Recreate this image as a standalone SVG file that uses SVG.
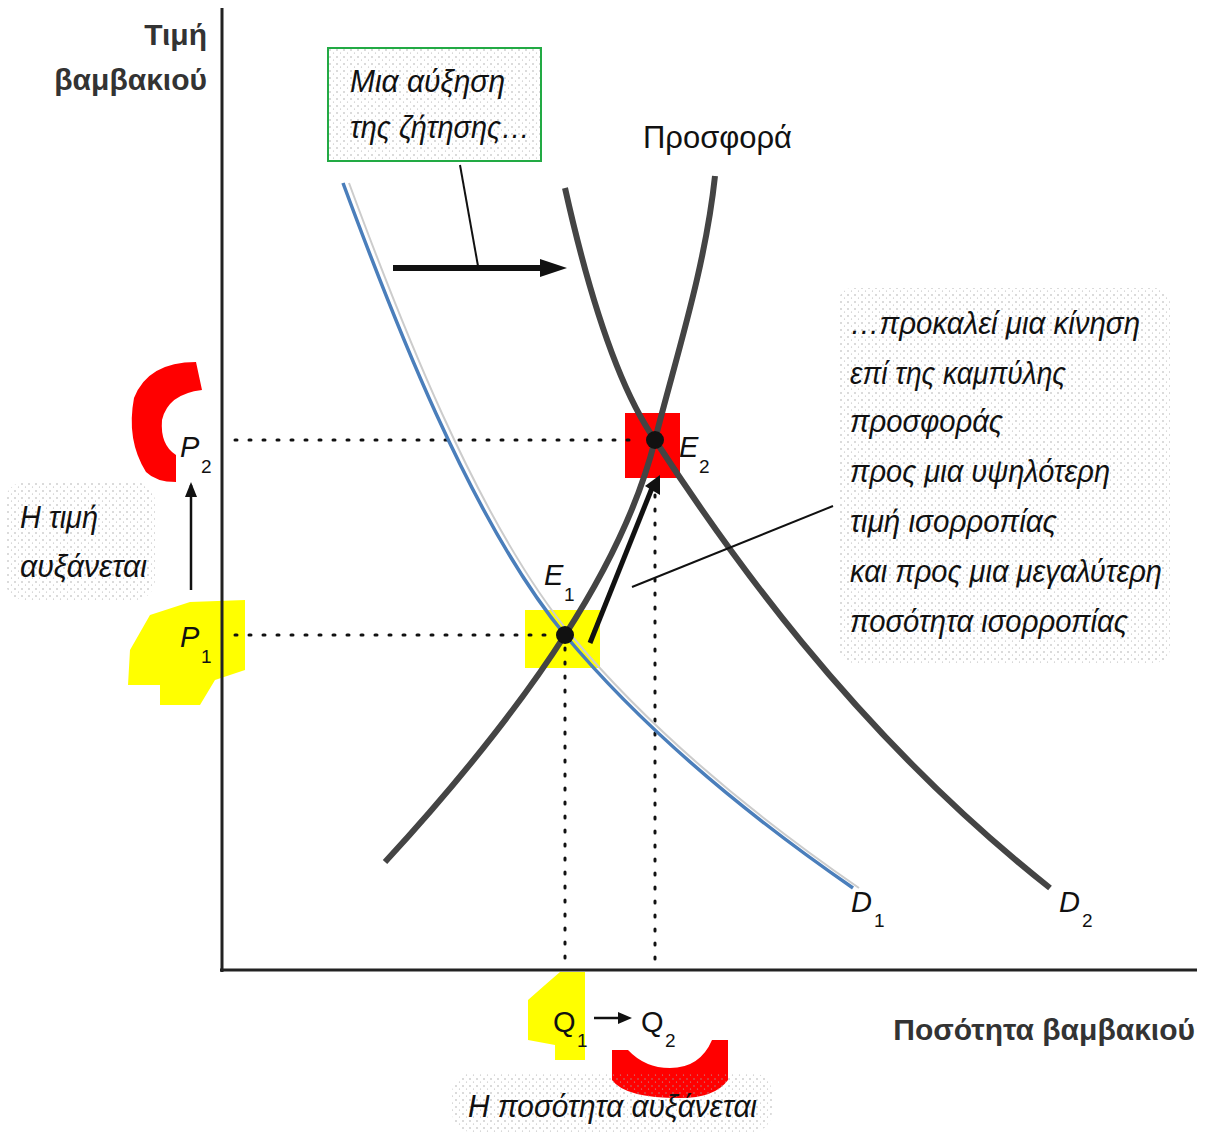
<svg xmlns="http://www.w3.org/2000/svg" width="1215" height="1132" viewBox="0 0 1215 1132">
<defs>
<pattern id="stip" width="7" height="7" patternUnits="userSpaceOnUse">
<circle cx="1" cy="1" r="0.7" fill="#9a9a9a"/>
<circle cx="4.5" cy="4" r="0.6" fill="#b0b0b0"/>
</pattern>
</defs>
<style>
.it{font-family:"Liberation Sans",Arial,sans-serif;font-style:italic;fill:#111}
.rg{font-family:"Liberation Sans",Arial,sans-serif;fill:#111}
.ax{font-family:"Liberation Sans",Arial,sans-serif;font-weight:bold;fill:#333}
.curve{fill:none;stroke:#444;stroke-width:6}
.dot{fill:none;stroke:#111;stroke-width:3;stroke-dasharray:2 12;stroke-linecap:round}
</style>
<rect width="1215" height="1132" fill="#fff"/>

<g id="highlights">
<path d="M196,362 Q148,362 134,398 Q126,440 146,472 Q156,482 176,482 L176,455 Q160,445 162,420 Q168,394 202,390 Z" fill="#ff0000"/>
<path d="M130,650 L150,615 L190,602 L245,600 L245,670 L215,680 L200,705 L160,705 L160,685 L128,685 Z" fill="#ffff00"/>
<rect x="625" y="413" width="55" height="65" fill="#ff0000"/>
<rect x="525" y="610" width="75" height="58" fill="#ffff00"/>
<path d="M545,985 L560,972 L585,972 L585,1060 L555,1060 L555,1045 L528,1040 L528,1000 Z" fill="#ffff00"/>
<path d="M612,1050 L628,1050 Q645,1068 670,1068 Q700,1068 712,1040 L728,1040 L728,1080 Q715,1098 680,1098 Q625,1098 612,1080 Z" fill="#ff0000"/>
</g>

<g id="backgrounds">
<rect x="838" y="288" width="332" height="375" rx="15" fill="url(#stip)"/>
<rect x="5" y="482" width="150" height="118" rx="20" fill="url(#stip)"/>
<rect x="452" y="1073" width="320" height="59" rx="20" fill="url(#stip)"/>
</g>

<g id="axes">
<line x1="222" y1="8" x2="222" y2="972" stroke="#222" stroke-width="3"/>
<line x1="220" y1="970" x2="1197" y2="970" stroke="#222" stroke-width="3"/>
</g>

<g id="guides">
<line class="dot" x1="235" y1="440" x2="640" y2="440"/>
<line class="dot" x1="235" y1="635" x2="555" y2="635"/>
<line class="dot" x1="565" y1="648" x2="565" y2="968"/>
<line class="dot" x1="655" y1="495" x2="655" y2="968"/>
</g>

<g id="connectors">
<path id="supply" class="curve" d="M385,862 C470,770 530,690 565,635 C610,565 640,500 655,440 C675,360 705,270 715,176"/>
<path id="d2" class="curve" d="M565,188 C590,300 620,390 655,440 C720,540 850,730 1050,888"/>
<path d="M349,183 C396,310 476,520 571,635 C646,725 746,810 859,888" fill="none" stroke="#ccc" stroke-width="2"/>
<path id="d1" d="M343,183 C390,310 470,520 565,635 C640,725 740,810 853,888" fill="none" stroke="#4a7ebb" stroke-width="3.5"/>
<line x1="393" y1="268" x2="545" y2="268" stroke="#111" stroke-width="6"/>
<path d="M540,259 L567,268 L540,277 Z" fill="#111"/>
<line x1="460" y1="165" x2="478" y2="266" stroke="#111" stroke-width="2"/>
<line x1="632" y1="587" x2="833" y2="506" stroke="#111" stroke-width="2"/>
<line x1="590" y1="643" x2="652" y2="488" stroke="#111" stroke-width="5"/>
<path d="M645,486 L660,475 L660,495 Z" fill="#111"/>
<line x1="191" y1="590" x2="191" y2="485" stroke="#111" stroke-width="2.5"/>
<path d="M185,497 L191,482 L197,497 Z" fill="#111"/>
<line x1="594" y1="1018" x2="622" y2="1018" stroke="#111" stroke-width="2.5"/>
<path d="M618,1012 L632,1018 L618,1024 Z" fill="#111"/>
</g>

<g id="equilibria">
<circle cx="565" cy="635" r="9" fill="#111"/>
<circle cx="655" cy="440" r="9" fill="#111"/>
</g>

<g id="box-demand">
<rect x="328" y="48" width="213" height="113" fill="url(#stip)" stroke="#22aa44" stroke-width="2"/>
<text class="it" x="350" y="92" font-size="31" textLength="155" lengthAdjust="spacingAndGlyphs">Μια αύξηση</text>
<text class="it" x="350" y="138" font-size="31" textLength="180" lengthAdjust="spacingAndGlyphs">της ζήτησης…</text>
</g>

<g id="box-move">
<text class="it" font-size="31" x="850" y="334" textLength="290" lengthAdjust="spacingAndGlyphs">…προκαλεί μια κίνηση</text>
<text class="it" font-size="31" x="850" y="384" textLength="216" lengthAdjust="spacingAndGlyphs">επί της καμπύλης</text>
<text class="it" font-size="31" x="850" y="432" textLength="153" lengthAdjust="spacingAndGlyphs">προσφοράς</text>
<text class="it" font-size="31" x="850" y="482" textLength="260" lengthAdjust="spacingAndGlyphs">προς μια υψηλότερη</text>
<text class="it" font-size="31" x="850" y="532" textLength="207" lengthAdjust="spacingAndGlyphs">τιμή ισορροπίας</text>
<text class="it" font-size="31" x="850" y="582" textLength="312" lengthAdjust="spacingAndGlyphs">και προς μια μεγαλύτερη</text>
<text class="it" font-size="31" x="850" y="632" textLength="278" lengthAdjust="spacingAndGlyphs">ποσότητα ισορροπίας</text>
</g>

<g id="labels">
<text class="ax" x="207" y="45" font-size="30" text-anchor="end">Τιμή</text>
<text class="ax" x="207" y="90" font-size="30" text-anchor="end">βαμβακιού</text>
<text class="ax" x="1195" y="1040" font-size="30" text-anchor="end">Ποσότητα βαμβακιού</text>
<text class="rg" x="643" y="148" font-size="31" textLength="149" lengthAdjust="spacingAndGlyphs">Προσφορά</text>
<text class="it" x="20" y="528" font-size="31" textLength="78" lengthAdjust="spacingAndGlyphs">Η τιμή</text>
<text class="it" x="20" y="577" font-size="31" textLength="127" lengthAdjust="spacingAndGlyphs">αυξάνεται</text>
<text class="it" x="468" y="1117" font-size="31" textLength="289" lengthAdjust="spacingAndGlyphs">Η ποσότητα αυξάνεται</text>
<text class="it" x="180" y="457" font-size="29">P</text><text class="rg" x="201" y="473" font-size="19">2</text>
<text class="it" x="180" y="647" font-size="29">P</text><text class="rg" x="201" y="663" font-size="19">1</text>
<text class="it" x="544" y="585" font-size="29">E</text><text class="rg" x="564" y="601" font-size="19">1</text>
<text class="it" x="679" y="457" font-size="29">E</text><text class="rg" x="699" y="473" font-size="19">2</text>
<text class="it" x="851" y="912" font-size="29">D</text><text class="rg" x="874" y="927" font-size="19">1</text>
<text class="it" x="1059" y="912" font-size="29">D</text><text class="rg" x="1082" y="927" font-size="19">2</text>
<text class="rg" x="553" y="1032" font-size="29">Q</text><text class="rg" x="577" y="1047" font-size="19">1</text>
<text class="rg" x="641" y="1032" font-size="29">Q</text><text class="rg" x="665" y="1047" font-size="19">2</text>
</g>
</svg>
